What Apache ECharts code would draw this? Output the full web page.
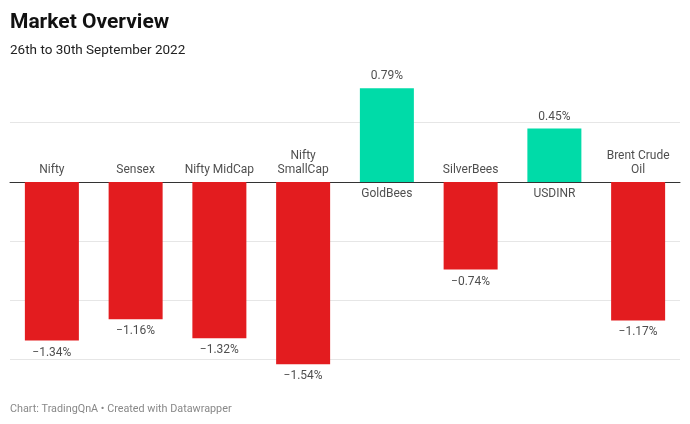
<!DOCTYPE html>
<html><head><meta charset="utf-8">
<script src="https://cdn.jsdelivr.net/npm/echarts@6/dist/echarts.min.js"></script>
<style>html,body{margin:0;padding:0;background:#fff}#c{width:690px;height:424px}</style>
</head><body><div id="c"></div>
<script>
const categories = ['Nifty', 'Sensex', 'Nifty MidCap', 'Nifty\nSmallCap', 'GoldBees', 'SilverBees', 'USDINR', 'Brent Crude\nOil'];
const values = [-1.34, -1.16, -1.32, -1.54, 0.79, -0.74, 0.45, -1.17];
const yTicks = [-1.5, -1, -0.5, 0, 0.5, 1];

const RED = '#e31c1f', GREEN = '#00dba8';
const fmt = v => (v < 0 ? '\u2212' + Math.abs(v).toFixed(2) : v.toFixed(2)) + '%';
const chart = echarts.init(document.getElementById('c'));
chart.setOption({
  animation: false,
  textStyle: { fontFamily: 'Roboto' },
  title: [
    { text: 'Market Overview', left: 10, top: 12, padding: 0, textStyle: { fontFamily: 'Roboto', fontSize: 21, fontWeight: 'bold', color: '#111' } },
    { text: '26th to 30th September 2022', left: 10, top: 44, padding: 0, textStyle: { fontFamily: 'Roboto', fontSize: 13.5, fontWeight: 'normal', color: '#222' } },
    { text: 'Chart: TradingQnA \u2022 Created with Datawrapper', left: 10, top: 404, padding: 0, textStyle: { fontFamily: 'Roboto', fontSize: 10.8, fontWeight: 'normal', color: '#888' } }
  ],
  grid: { left: 10, right: 10, top: 63.5, bottom: 64.5 },
  xAxis: {
    type: 'category', data: categories,
    axisLine: { onZero: true, lineStyle: { color: '#333', width: 1 } },
    axisTick: { show: false }, axisLabel: { show: false }
  },
  yAxis: {
    type: 'value', min: yTicks[0], max: yTicks[yTicks.length - 1], interval: 0.5,
    axisLabel: { show: false }, axisLine: { show: false }, axisTick: { show: false },
    splitLine: { lineStyle: { color: ['#e6e6e6', '#e6e6e6', '#e6e6e6', '#e6e6e6', '#e6e6e6', 'rgba(0,0,0,0)'], width: 1 } }
  },
  series: [
    {
      type: 'bar', barWidth: 54, z: 2, clip: false,
      data: values.map(v => ({ value: v, itemStyle: { color: v < 0 ? RED : GREEN } }))
    },
    {
      type: 'scatter', symbolSize: 0, z: 3, silent: true, clip: false,
      data: values.map(v => ({
        value: v,
        label: { show: true, position: v < 0 ? 'bottom' : 'top', distance: 6, formatter: fmt(v), fontSize: 12, color: '#222', fontFamily: 'Roboto' }
      }))
    },
    {
      type: 'scatter', symbolSize: 0, z: 3, silent: true, clip: false,
      data: values.map((v, i) => ({
        value: 0,
        label: { show: true, position: v < 0 ? 'top' : 'bottom', distance: 5, formatter: categories[i], fontSize: 12, lineHeight: 14, color: '#222', fontFamily: 'Roboto', align: 'center' }
      }))
    }
  ]
});
</script></body></html>
